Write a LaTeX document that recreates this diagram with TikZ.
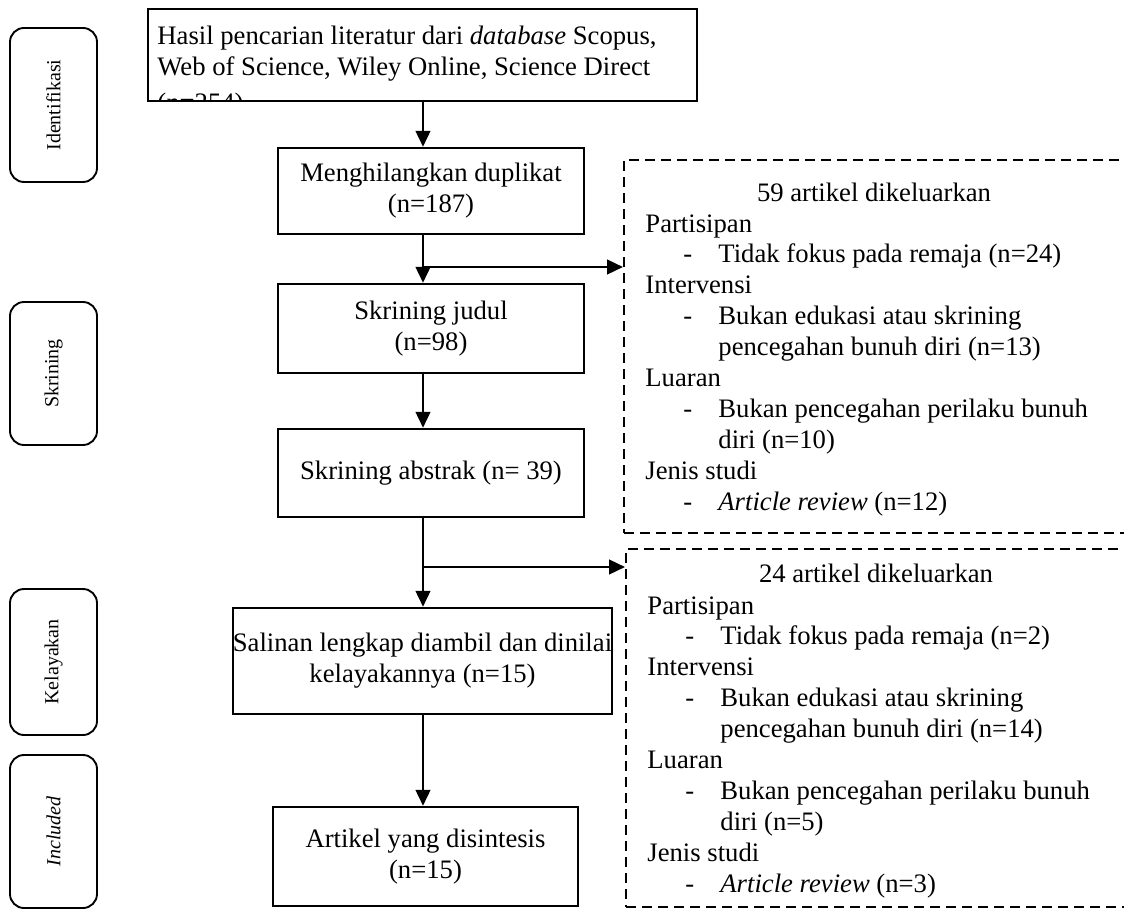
\documentclass[tikz,border=0pt]{standalone}
\usepackage{fontspec}
\setmainfont{Liberation Serif}
\usetikzlibrary{arrows.meta}
\newcommand{\exdash}[1]{\hspace*{17.1pt}\makebox[15.75pt][l]{-}#1}
\newcommand{\excont}[1]{\hspace*{32.85pt}#1}
\begin{document}
\begin{tikzpicture}[x=0.45pt,y=-0.45pt,
  every node/.style={font=\fontsize{12}{13.9}\selectfont},
  box/.style={draw, line width=1.1pt, align=center, inner sep=0pt, fill=white},
  side/.style={draw, line width=0.85pt, rounded corners=6.3pt, rotate=90, minimum height=39.15pt, inner sep=0pt, font=\fontsize{9}{10}\selectfont},
  exbox/.style={draw, dash pattern=on 4.5pt off 2.7pt, line width=1.1pt, inner sep=0pt, anchor=north west},
  exlines/.style={anchor=north west, align=left, inner sep=0pt},
  arr/.style={line width=1.1pt, -{Triangle[length=7.2pt,width=6.6pt]}}
]
\useasboundingbox (0,0) rectangle (1124,914);

% side labels
\node[side, minimum width=69.3pt] (sid1) at (53.5,105) {Identifikasi};
\node[side, minimum width=64.35pt] (sid2) at (53.5,373.5) {Skrining};
\node[side, minimum width=65.7pt] (sid3) at (53.5,662) {Kelayakan};
\node[side, minimum width=68.85pt] (sid4) at (53.5,831.5) {\textit{Included}};

% source box with clipped text
\node[box, minimum width=247.05pt, minimum height=41.4pt] (src) at (422.5,55) {};
\begin{scope}
\clip ([yshift=0.6pt]src.south west) rectangle (src.north east);
\node[exlines] (srctxt) at (157,26) {Hasil pencarian literatur dari \textit{database} Scopus,\\Web of Science, Wiley Online, Science Direct\\[2.2pt](n=254)};
\end{scope}

% main boxes
\node[box, minimum width=137.7pt, minimum height=38.7pt] (dup) at (431,191) {Menghilangkan duplikat\\(n=187)};
\node[box, minimum width=137.7pt, minimum height=40.05pt] (jud) at (431,328.5) {Skrining judul\\(n=98)};
\node[box, minimum width=137.7pt, minimum height=39.6pt] (abs) at (431,473) {Skrining abstrak (n= 39)};
\node[box, minimum width=170.55pt, minimum height=47.7pt] (sal) at (422.5,661) {Salinan lengkap diambil dan dinilai\\kelayakannya (n=15)};
\node[box, minimum width=137.25pt, minimum height=44.55pt] (art) at (425.5,856.5) {Artikel yang disintesis\\(n=15)};

% excluded boxes
\node[exbox, minimum width=232.65pt, minimum height=167.85pt] (ex1) at (623,159) {};
\node[exbox, minimum width=231.75pt, minimum height=161.1pt] (ex2) at (625,548) {};

\node (ex1t) at (874,192) {59 artikel dikeluarkan};
\node[exlines] (ex1l) at (645,214) {Partisipan\\
\exdash{Tidak fokus pada remaja (n=24)}\\
Intervensi\\
\exdash{Bukan edukasi atau skrining}\\
\excont{pencegahan bunuh diri (n=13)}\\
Luaran\\
\exdash{Bukan pencegahan perilaku bunuh}\\
\excont{diri (n=10)}\\
Jenis studi\\
\exdash{\textit{Article review} (n=12)}};

\node (ex2t) at (876,573) {24 artikel dikeluarkan};
\node[exlines] (ex2l) at (647,596) {Partisipan\\
\exdash{Tidak fokus pada remaja (n=2)}\\
Intervensi\\
\exdash{Bukan edukasi atau skrining}\\
\excont{pencegahan bunuh diri (n=14)}\\
Luaran\\
\exdash{Bukan pencegahan perilaku bunuh}\\
\excont{diri (n=5)}\\
Jenis studi\\
\exdash{\textit{Article review} (n=3)}};

% connectors
\coordinate (sp) at (423,0);
\coordinate (b1) at (423,267);
\coordinate (b2) at (423,567);
\draw[arr] (src.south -| sp) -- (dup.north -| sp);
\draw[arr] (dup.south -| sp) -- (jud.north -| sp);
\draw[arr] (b1) -- (b1 -| ex1.west);
\draw[arr] (jud.south -| sp) -- (abs.north -| sp);
\draw[arr] (abs.south -| sp) -- (sal.north -| sp);
\draw[arr] (b2) -- (b2 -| ex2.west);
\draw[arr] (sal.south -| sp) -- (art.north -| sp);
\end{tikzpicture}
\end{document}
